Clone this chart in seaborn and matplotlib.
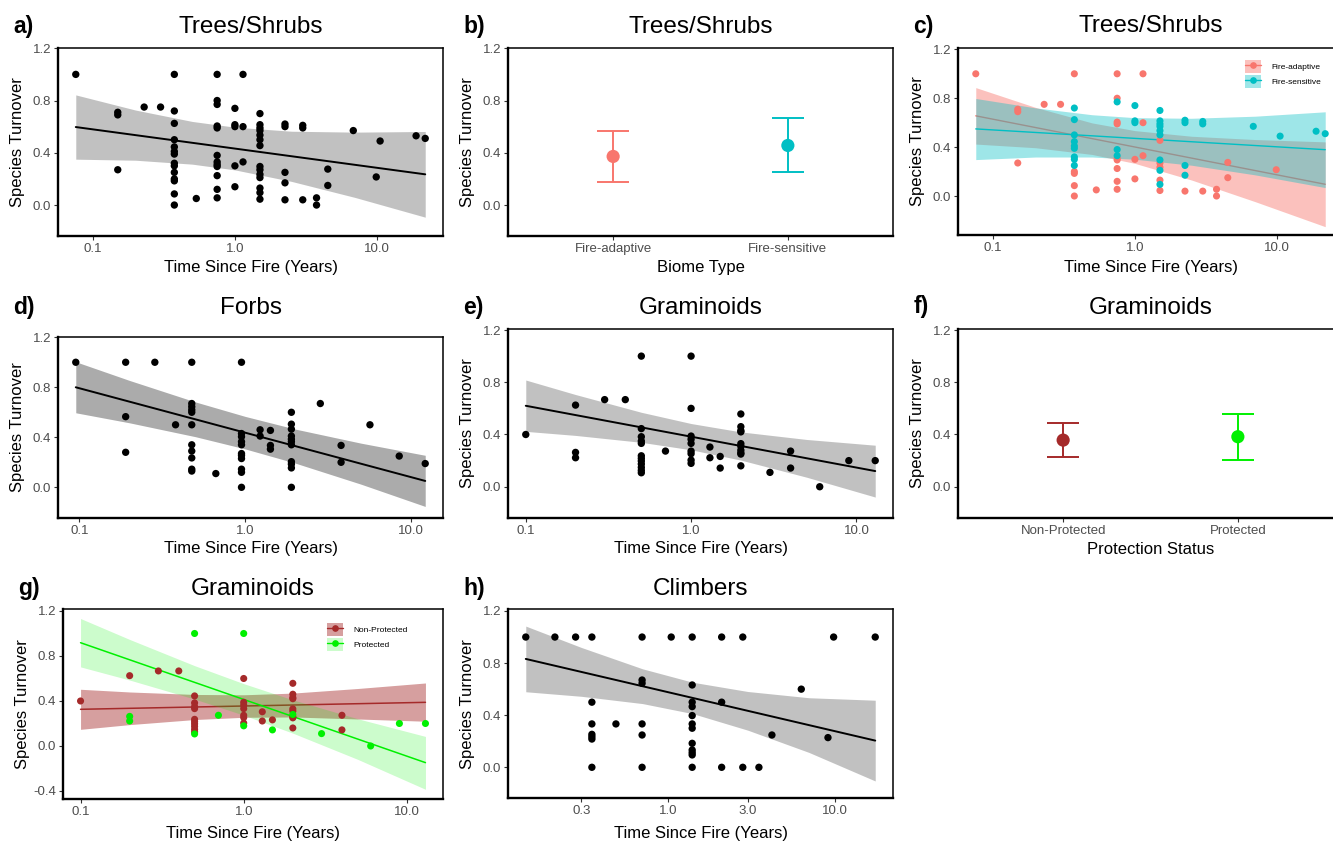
import numpy as np
import matplotlib
matplotlib.use("Agg")
import matplotlib.pyplot as plt
from matplotlib.ticker import NullLocator
from matplotlib.patches import Patch
from matplotlib.lines import Line2D
import seaborn as sns

sns.set_theme(style="white")
plt.rcParams['font.family'] = ['Liberation Sans', 'DejaVu Sans']
plt.rcParams['text.color'] = 'black'
plt.rcParams['axes.labelcolor'] = 'black'

# ------------------------------------------------------------------ data
# Trees/Shrubs - fire-adaptive biomes
ts_adapt_x = [0.076, 0.15, 0.15, 0.15, 0.23, 0.30, 0.375, 0.375, 0.375, 0.375, 0.375, 0.535,
              0.75, 0.75, 0.75, 0.75, 0.75, 0.75, 0.75, 0.75, 0.75, 1.0, 1.0, 1.14, 1.14, 1.14,
              1.5, 1.5, 1.5, 1.5, 1.5, 2.25, 3.0, 3.75, 3.75, 4.5, 4.5, 9.86]
ts_adapt_y = [1.0, 0.71, 0.69, 0.27, 0.75, 0.75, 1.0, 0.20, 0.185, 0.085, 0.0, 0.05,
              1.0, 0.80, 0.605, 0.59, 0.31, 0.295, 0.225, 0.12, 0.055, 0.30, 0.14, 1.0, 0.60, 0.33,
              0.455, 0.27, 0.235, 0.13, 0.045, 0.04, 0.04, 0.055, 0.0, 0.275, 0.15, 0.215]
# Trees/Shrubs - fire-sensitive biomes
ts_sens_x = [0.375, 0.375, 0.375, 0.375, 0.375, 0.375, 0.375, 0.375, 0.375,
             0.75, 0.75, 0.75, 1.0, 1.0, 1.0,
             1.5, 1.5, 1.5, 1.5, 1.5, 1.5, 1.5, 1.5, 1.5,
             2.25, 2.25, 2.25, 2.25, 3.0, 3.0, 6.8, 10.5, 18.8, 21.8]
ts_sens_y = [0.72, 0.625, 0.50, 0.445, 0.41, 0.39, 0.32, 0.30, 0.25,
             0.77, 0.38, 0.33, 0.74, 0.615, 0.60,
             0.70, 0.615, 0.59, 0.57, 0.535, 0.50, 0.295, 0.21, 0.095,
             0.62, 0.60, 0.25, 0.17, 0.61, 0.59, 0.57, 0.49, 0.53, 0.51]

# Forbs
forb_x = [0.095, 0.19, 0.19, 0.19, 0.285, 0.38,
          0.476, 0.476, 0.476, 0.476, 0.476, 0.476, 0.476, 0.476, 0.476, 0.476, 0.476,
          0.665,
          0.95, 0.95, 0.95, 0.95, 0.95, 0.95, 0.95, 0.95, 0.95, 0.95, 0.95,
          1.23, 1.23, 1.42, 1.42, 1.42,
          1.9, 1.9, 1.9, 1.9, 1.9, 1.9, 1.9, 1.9, 1.9, 1.9, 1.9,
          2.84, 3.79, 3.79, 5.66, 8.5, 12.2]
forb_y = [1.0, 1.0, 0.565, 0.28, 1.0, 0.5,
          1.0, 0.67, 0.645, 0.62, 0.60, 0.50, 0.34, 0.29, 0.235, 0.145, 0.13,
          0.11,
          1.0, 0.43, 0.405, 0.365, 0.34, 0.27, 0.255, 0.23, 0.145, 0.12, 0.0,
          0.46, 0.41, 0.455, 0.335, 0.305,
          0.60, 0.505, 0.465, 0.41, 0.385, 0.365, 0.34, 0.205, 0.185, 0.155, 0.0,
          0.67, 0.335, 0.20, 0.50, 0.25, 0.19]

# Graminoids - non-protected sites
gram_np_x = [0.1, 0.2, 0.3, 0.4,
             0.5, 0.5, 0.5, 0.5, 0.5, 0.5, 0.5, 0.5, 0.5, 0.5,
             1.0, 1.0, 1.0, 1.0, 1.0, 1.0, 1.0, 1.3, 1.3, 1.5,
             2.0, 2.0, 2.0, 2.0, 2.0, 2.0, 2.0, 2.0, 2.0, 4.0, 4.0]
gram_np_y = [0.40, 0.625, 0.667, 0.667,
             0.445, 0.383, 0.35, 0.332, 0.237, 0.217, 0.197, 0.174, 0.148, 0.125,
             0.60, 0.388, 0.363, 0.332, 0.273, 0.253, 0.204, 0.304, 0.222, 0.232,
             0.557, 0.46, 0.43, 0.42, 0.33, 0.31, 0.26, 0.25, 0.16, 0.273, 0.143]
# Graminoids - protected sites
gram_p_x = [0.2, 0.2, 0.5, 0.5, 0.7, 1.0, 1.0, 1.5, 2.0, 3.0, 6.0, 9.0, 13.0]
gram_p_y = [0.263, 0.222, 1.0, 0.107, 0.273, 1.0, 0.179, 0.143, 0.28, 0.11, 0.0, 0.2, 0.2]

# Climbers
climb_x = [0.139, 0.208, 0.277,
           0.347, 0.347, 0.347, 0.347, 0.347, 0.347, 0.347, 0.484,
           0.695, 0.695, 0.695, 0.695, 0.695, 0.695, 1.04,
           1.39, 1.39, 1.39, 1.39, 1.39, 1.39, 1.39, 1.39, 1.39, 1.39, 1.39, 1.39,
           2.09, 2.09, 2.09, 2.8, 2.8, 3.5, 4.19, 6.29, 9.1, 9.84, 17.5]
climb_y = [1.0, 1.0, 1.0,
           1.0, 0.50, 0.333, 0.253, 0.235, 0.217, 0.0, 0.333,
           1.0, 0.67, 0.645, 0.333, 0.248, 0.0, 1.0,
           1.0, 0.632, 0.50, 0.466, 0.397, 0.333, 0.30, 0.184, 0.133, 0.113, 0.095, 0.0,
           1.0, 0.50, 0.0, 1.0, 0.0, 0.0, 0.248, 0.60, 0.228, 1.0, 1.0]

# Group estimates (mean and 95% CI)
biome_cats = ["Fire-adaptive", "Fire-sensitive"]
biome_mean = [0.372, 0.456]
biome_lo = [0.174, 0.252]
biome_hi = [0.566, 0.663]

prot_cats = ["Non-Protected", "Protected"]
prot_mean = [0.357, 0.383]
prot_lo = [0.227, 0.204]
prot_hi = [0.490, 0.559]

# Fitted regression lines and confidence bands
a_fit_x = [0.076, 21.8]
a_fit_y = [0.597, 0.235]
a_band_x = [0.076, 0.2, 0.5, 1.0, 2.5, 7.0, 21.8]
a_band_hi = [0.843, 0.727, 0.640, 0.596, 0.565, 0.558, 0.563]
a_band_lo = [0.351, 0.343, 0.313, 0.269, 0.181, 0.058, -0.093]

c_adapt_fit_y = [0.656, 0.096]
c_adapt_hi = [0.887, 0.725, 0.598, 0.535, 0.489, 0.462, 0.443]
c_adapt_lo = [0.425, 0.395, 0.340, 0.267, 0.131, -0.046, -0.251]
c_sens_fit_y = [0.549, 0.379]
c_sens_hi = [0.798, 0.721, 0.665, 0.641, 0.636, 0.653, 0.689]
c_sens_lo = [0.298, 0.319, 0.319, 0.301, 0.252, 0.173, 0.069]

d_fit_x = [0.095, 12.2]
d_fit_y = [0.800, 0.051]
d_band_x = [0.095, 0.2, 0.5, 1.0, 2.0, 5.0, 12.2]
d_band_hi = [1.004, 0.855, 0.683, 0.567, 0.466, 0.353, 0.256]
d_band_lo = [0.596, 0.516, 0.405, 0.307, 0.194, 0.025, -0.153]

e_fit_x = [0.1, 13.0]
e_fit_y = [0.620, 0.120]
e_band_x = [0.1, 0.2, 0.5, 1.0, 2.0, 5.0, 13.0]
e_band_hi = [0.817, 0.706, 0.570, 0.484, 0.420, 0.362, 0.318]
e_band_lo = [0.424, 0.393, 0.340, 0.283, 0.204, 0.073, -0.079]

g_np_fit_y = [0.326, 0.388]
g_np_hi = [0.504, 0.480, 0.458, 0.455, 0.470, 0.511, 0.560]
g_np_lo = [0.148, 0.190, 0.235, 0.255, 0.258, 0.240, 0.220]
g_p_fit_y = [0.918, -0.148]
g_p_hi = [1.133, 0.947, 0.714, 0.554, 0.410, 0.242, 0.085]
g_p_lo = [0.703, 0.586, 0.417, 0.274, 0.114, -0.119, -0.385]

h_fit_x = [0.139, 17.5]
h_fit_y = [0.832, 0.205]
h_band_x = [0.139, 0.3, 0.7, 1.4, 3.0, 7.0, 17.5]
h_band_hi = [1.084, 0.920, 0.756, 0.653, 0.582, 0.534, 0.515]
h_band_lo = [0.580, 0.545, 0.489, 0.412, 0.285, 0.114, -0.105]

# ------------------------------------------------------------------ style
RED, CYAN = "#F8766D", "#00BFC4"
BROWN, GREEN = "#A52A2A", "#00F000"
TICK_GREY = "#4D4D4D"

W, H = 1333, 841
fig = plt.figure(figsize=(W / 100, H / 100), dpi=100)


def add_ax(l, r, t, b):
    return fig.add_axes([l / W, 1 - b / H, (r - l) / W, (b - t) / H])


def ftext(x, y, s, **kw):
    fig.text(x / W, 1 - y / H, s, color="black", **kw)


def log_xlim(xs):
    lx = np.log10(np.asarray(xs, dtype=float))
    span = lx.max() - lx.min()
    return 10 ** (lx.min() - 0.05 * span), 10 ** (lx.max() + 0.05 * span)


def style(ax, ylim, yticks):
    ax.set_ylim(*ylim)
    ax.set_yticks(yticks)
    ax.set_yticklabels([f"{t:.1f}" for t in yticks])
    for s in ["left", "bottom"]:
        ax.spines[s].set_linewidth(1.7)
    for s in ["top", "right"]:
        ax.spines[s].set_linewidth(1.1)
    for s in ax.spines.values():
        s.set_color("black")
        s.set_visible(True)
    ax.tick_params(axis="both", which="major", length=2.6, width=0.8, color="#333333",
                   labelsize=9.5, labelcolor=TICK_GREY, pad=2.5, direction="out",
                   bottom=True, left=True)
    ax.grid(False)
    ax.set_xlabel("")
    ax.set_ylabel("")


def log_axis(ax, xs, ticks, labels):
    ax.set_xscale("log")
    ax.set_xlim(*log_xlim(xs))
    ax.set_xticks(ticks)
    ax.set_xticklabels(labels)
    ax.xaxis.set_minor_locator(NullLocator())


def panel_text(box, letter, title, xlabel, title_y, xlabel_y):
    l, r, t, b = box
    cx = (l + r) / 2
    ftext(cx, title_y, title, ha="center", va="baseline", fontsize=17.5)
    ftext(l - 45, title_y, letter, ha="left", va="baseline",
          fontsize=16.5, fontweight="bold")
    ftext(cx, xlabel_y, xlabel, ha="center", va="baseline", fontsize=12)
    ftext(l - 40.8, (t + b) / 2, "Species Turnover", ha="center",
          va="center", rotation=90, fontsize=12)


def single_fit(ax, xs, ys, fx, fy, bx, blo, bhi, band_color, band_alpha):
    ax.fill_between(bx, blo, bhi, color=band_color, alpha=band_alpha, lw=0, zorder=1)
    sns.lineplot(x=fx, y=fy, color="black", lw=1.4, ax=ax, zorder=2)
    sns.scatterplot(x=xs, y=ys, color="black", s=28, edgecolor="none", ax=ax, zorder=3)


YT = [0.0, 0.4, 0.8, 1.2]

# ---------------- a) Trees/Shrubs
box_a = (58.3, 442.7, 48, 236)
ax = add_ax(*box_a)
ts_x = ts_adapt_x + ts_sens_x
ts_y = ts_adapt_y + ts_sens_y
log_axis(ax, ts_x, [0.1, 1, 10], ["0.1", "1.0", "10.0"])
single_fit(ax, ts_x, ts_y, a_fit_x, a_fit_y, a_band_x, a_band_lo, a_band_hi, "#999999", 0.6)
style(ax, (-0.237, 1.202), YT)
panel_text(box_a, "a)", "Trees/Shrubs", "Time Since Fire (Years)", 32.7, 271.7)

# ---------------- b) Biome type
box_b = (508.3, 892.7, 48, 236)
ax = add_ax(*box_b)
sns.scatterplot(x=biome_cats, y=biome_mean, hue=biome_cats, palette=[RED, CYAN], s=90,
                edgecolor="none", legend=False, ax=ax, zorder=3)
for i, c in enumerate([RED, CYAN]):
    ax.errorbar([i], [biome_mean[i]], yerr=[[biome_mean[i] - biome_lo[i]], [biome_hi[i] - biome_mean[i]]],
                fmt="none", ecolor=c, elinewidth=1.4, capsize=11.5, capthick=1.4, zorder=2)
ax.set_xlim(-0.6, 1.6)
ax.set_xticks([0, 1])
ax.set_xticklabels(biome_cats)
style(ax, (-0.237, 1.202), YT)
panel_text(box_b, "b)", "Trees/Shrubs", "Biome Type", 32.7, 271.7)

# ---------------- c) Trees/Shrubs by biome
box_c = (958.3, 1342.7, 48, 235)
ax = add_ax(*box_c)
log_axis(ax, ts_x, [0.1, 1, 10], ["0.1", "1.0", "10.0"])
ax.fill_between(a_band_x, c_adapt_lo, c_adapt_hi, color=RED, alpha=0.45, lw=0, zorder=1.0)
sns.lineplot(x=a_fit_x, y=c_adapt_fit_y, color=RED, lw=1.0, ax=ax, zorder=1.1)
ax.fill_between(a_band_x, c_sens_lo, c_sens_hi, color=CYAN, alpha=0.38, lw=0, zorder=1.2)
sns.lineplot(x=a_fit_x, y=c_sens_fit_y, color=CYAN, lw=1.0, ax=ax, zorder=1.3)
sns.scatterplot(x=ts_adapt_x, y=ts_adapt_y, color=RED, s=26, edgecolor="none", ax=ax, zorder=3)
sns.scatterplot(x=ts_sens_x, y=ts_sens_y, color=CYAN, s=26, edgecolor="none", ax=ax, zorder=3)
style(ax, (-0.319, 1.211), YT)
handles = [(Patch(facecolor=RED, alpha=0.45, lw=0), Line2D([], [], color=RED, lw=1, marker="o", ms=3.8)),
           (Patch(facecolor=CYAN, alpha=0.38, lw=0), Line2D([], [], color=CYAN, lw=1, marker="o", ms=3.8))]
ax.legend(handles, biome_cats, loc="upper left", bbox_to_anchor=(1245 / W, 1 - 60.3 / H),
          bbox_transform=fig.transFigure, frameon=False, fontsize=6, borderpad=0, borderaxespad=0,
          handlelength=1.92, handleheight=1.92, labelspacing=0.29, handletextpad=1.25)
panel_text(box_c, "c)", "Trees/Shrubs", "Time Since Fire (Years)", 32.5, 272)

# ---------------- d) Forbs
box_d = (58.3, 442.7, 336.5, 517.7)
ax = add_ax(*box_d)
log_axis(ax, forb_x, [0.1, 1, 10], ["0.1", "1.0", "10.0"])
single_fit(ax, forb_x, forb_y, d_fit_x, d_fit_y, d_band_x, d_band_lo, d_band_hi, "#999999", 0.82)
style(ax, (-0.243, 1.206), YT)
panel_text(box_d, "d)", "Forbs", "Time Since Fire (Years)", 314, 553.3)

# ---------------- e) Graminoids
box_e = (508.3, 892.7, 328.7, 517.7)
ax = add_ax(*box_e)
gram_x = gram_np_x + gram_p_x
gram_y = gram_np_y + gram_p_y
log_axis(ax, gram_x, [0.1, 1, 10], ["0.1", "1.0", "10.0"])
single_fit(ax, gram_x, gram_y, e_fit_x, e_fit_y, e_band_x, e_band_lo, e_band_hi, "#999999", 0.6)
style(ax, (-0.237, 1.21), YT)
panel_text(box_e, "e)", "Graminoids", "Time Since Fire (Years)", 314, 553.3)

# ---------------- f) Protection status
box_f = (958.3, 1342.7, 328.7, 517.7)
ax = add_ax(*box_f)
sns.scatterplot(x=prot_cats, y=prot_mean, hue=prot_cats, palette=[BROWN, GREEN], s=90,
                edgecolor="none", legend=False, ax=ax, zorder=3)
for i, c in enumerate([BROWN, GREEN]):
    ax.errorbar([i], [prot_mean[i]], yerr=[[prot_mean[i] - prot_lo[i]], [prot_hi[i] - prot_mean[i]]],
                fmt="none", ecolor=c, elinewidth=1.4, capsize=11.5, capthick=1.4, zorder=2)
ax.set_xlim(-0.6, 1.6)
ax.set_xticks([0, 1])
ax.set_xticklabels(prot_cats)
style(ax, (-0.237, 1.21), YT)
panel_text(box_f, "f)", "Graminoids", "Protection Status", 313.5, 554)

# ---------------- g) Graminoids by protection
box_g = (63.3, 442.7, 609.3, 799.3)
ax = add_ax(*box_g)
log_axis(ax, gram_x, [0.1, 1, 10], ["0.1", "1.0", "10.0"])
ax.fill_between(e_band_x, g_np_lo, g_np_hi, color=BROWN, alpha=0.45, lw=0, zorder=1.0)
sns.lineplot(x=e_fit_x, y=g_np_fit_y, color=BROWN, lw=1.1, ax=ax, zorder=1.1)
ax.fill_between(e_band_x, g_p_lo, g_p_hi, color=GREEN, alpha=0.2, lw=0, zorder=1.2)
sns.lineplot(x=e_fit_x, y=g_p_fit_y, color=GREEN, lw=1.1, ax=ax, zorder=1.3)
sns.scatterplot(x=gram_np_x, y=gram_np_y, color=BROWN, s=26, edgecolor="none", ax=ax, zorder=3)
sns.scatterplot(x=gram_p_x, y=gram_p_y, color=GREEN, s=26, edgecolor="none", ax=ax, zorder=3)
style(ax, (-0.474, 1.215), [-0.4] + YT)
handles = [(Patch(facecolor=BROWN, alpha=0.45, lw=0), Line2D([], [], color=BROWN, lw=1, marker="o", ms=3.8)),
           (Patch(facecolor=GREEN, alpha=0.2, lw=0), Line2D([], [], color=GREEN, lw=1, marker="o", ms=3.8))]
ax.legend(handles, prot_cats, loc="upper left", bbox_to_anchor=(326.7 / W, 1 - 623.2 / H),
          bbox_transform=fig.transFigure, frameon=False, fontsize=6, borderpad=0, borderaxespad=0,
          handlelength=2.0, handleheight=2.0, labelspacing=0.25, handletextpad=1.2)
panel_text(box_g, "g)", "Graminoids", "Time Since Fire (Years)", 595, 838)

# ---------------- h) Climbers
box_h = (508.3, 892.7, 609.3, 798.3)
ax = add_ax(*box_h)
log_axis(ax, climb_x, [0.3, 1, 3, 10], ["0.3", "1.0", "3.0", "10.0"])
single_fit(ax, climb_x, climb_y, h_fit_x, h_fit_y, h_band_x, h_band_lo, h_band_hi, "#999999", 0.6)
style(ax, (-0.238, 1.213), YT)
panel_text(box_h, "h)", "Climbers", "Time Since Fire (Years)", 595, 838)

fig.savefig("out.png", dpi=100)
